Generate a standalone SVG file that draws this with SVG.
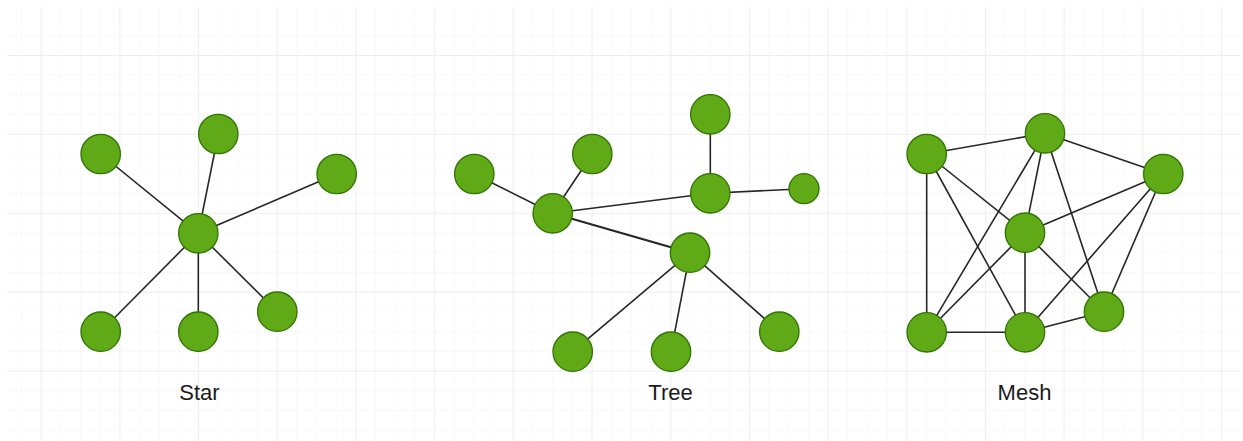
<svg xmlns="http://www.w3.org/2000/svg" width="1243" height="441" viewBox="0 0 1243 441">
<defs>
<pattern id="minor" x="40.7" y="55" width="19.67" height="19.72" patternUnits="userSpaceOnUse">
<path d="M0 0V19.72M0 0H19.67" fill="none" stroke="#f4f4f4" stroke-width="1"/>
</pattern>
<pattern id="major" x="40.7" y="55" width="78.69" height="78.9" patternUnits="userSpaceOnUse">
<path d="M0 0V78.9M0 0H78.69" fill="none" stroke="#e6e6e6" stroke-width="1"/>
</pattern>
<style>
.n{fill:#60a917;stroke:#2d7600;stroke-width:1.3}
.e{stroke:#262626;stroke-width:1.6;fill:none}
.t{font-family:"Liberation Sans",Arial,sans-serif;font-size:22px;fill:#1a1a1a;text-anchor:middle}
</style>
</defs>
<rect width="1243" height="441" fill="#fff"/>
<rect x="7" y="7" width="1233" height="434" fill="url(#minor)"/>
<rect x="7" y="7" width="1233" height="434" fill="url(#major)"/>
<g id="connectors" class="e">
<!-- star -->
<line x1="198.3" y1="233.3" x2="100.7" y2="154"/>
<line x1="198.3" y1="233.3" x2="218.3" y2="134"/>
<line x1="198.3" y1="233.3" x2="336.7" y2="174"/>
<line x1="198.3" y1="233.3" x2="100.7" y2="331.7"/>
<line x1="198.3" y1="233.3" x2="198.3" y2="331.7"/>
<line x1="198.3" y1="233.3" x2="277.3" y2="311.7"/>
<!-- tree -->
<line x1="552.7" y1="213.3" x2="474.3" y2="174"/>
<line x1="552.7" y1="213.3" x2="592.3" y2="154"/>
<line x1="552.7" y1="213.3" x2="710.3" y2="193.3"/>
<line x1="710.3" y1="193.3" x2="710.3" y2="114.3"/>
<line x1="710.3" y1="193.3" x2="804" y2="188.7"/>
<line x1="552.7" y1="213.3" x2="690" y2="252.7" stroke-width="2.2"/>
<line x1="690" y1="252.7" x2="572.7" y2="351.7"/>
<line x1="690" y1="252.7" x2="671" y2="351.7"/>
<line x1="690" y1="252.7" x2="779.3" y2="331.7"/>
<!-- mesh -->
<line x1="926.7" y1="154" x2="1045" y2="133.3"/>
<line x1="926.7" y1="154" x2="926.7" y2="332.3"/>
<line x1="926.7" y1="154" x2="1025" y2="232.7"/>
<line x1="926.7" y1="154" x2="1025" y2="332.3"/>
<line x1="1045" y1="133.3" x2="1163.3" y2="174"/>
<line x1="1045" y1="133.3" x2="1025" y2="232.7"/>
<line x1="1045" y1="133.3" x2="926.7" y2="332.3"/>
<line x1="1045" y1="133.3" x2="1104" y2="311.7"/>
<line x1="1025" y1="232.7" x2="1163.3" y2="174"/>
<line x1="1025" y1="232.7" x2="926.7" y2="332.3"/>
<line x1="1025" y1="232.7" x2="1025" y2="332.3"/>
<line x1="1025" y1="232.7" x2="1104" y2="311.7"/>
<line x1="1163.3" y1="174" x2="1025" y2="332.3"/>
<line x1="1163.3" y1="174" x2="1104" y2="311.7"/>
<line x1="926.7" y1="332.3" x2="1025" y2="332.3"/>
<line x1="1025" y1="332.3" x2="1104" y2="311.7"/>
</g>
<g id="star">
<g id="star-hub"><circle class="n" cx="198.3" cy="233.3" r="19.7"/></g>
<g id="star-1"><circle class="n" cx="100.7" cy="154" r="19.7"/></g>
<g id="star-2"><circle class="n" cx="218.3" cy="134" r="19.7"/></g>
<g id="star-3"><circle class="n" cx="336.7" cy="174" r="19.7"/></g>
<g id="star-4"><circle class="n" cx="100.7" cy="331.7" r="19.7"/></g>
<g id="star-5"><circle class="n" cx="198.3" cy="331.7" r="19.7"/></g>
<g id="star-6"><circle class="n" cx="277.3" cy="311.7" r="19.7"/></g>
<text class="t" x="199.5" y="399.5">Star</text>
</g>
<g id="tree">
<g id="tree-1"><circle class="n" cx="474.3" cy="174" r="19.7"/></g>
<g id="tree-2"><circle class="n" cx="592.3" cy="154" r="19.7"/></g>
<g id="tree-hub"><circle class="n" cx="552.7" cy="213.3" r="19.7"/></g>
<g id="tree-hub2"><circle class="n" cx="710.3" cy="193.3" r="19.7"/></g>
<g id="tree-3"><circle class="n" cx="710.3" cy="114.3" r="19.7"/></g>
<g id="tree-4"><circle class="n" cx="804" cy="188.7" r="15"/></g>
<g id="tree-hub3"><circle class="n" cx="690" cy="252.7" r="19.7"/></g>
<g id="tree-5"><circle class="n" cx="572.7" cy="351.7" r="19.7"/></g>
<g id="tree-6"><circle class="n" cx="671" cy="351.7" r="19.7"/></g>
<g id="tree-7"><circle class="n" cx="779.3" cy="331.7" r="19.7"/></g>
<text class="t" x="670.5" y="399.5">Tree</text>
</g>
<g id="mesh">
<g id="mesh-tl"><circle class="n" cx="926.7" cy="154" r="19.7"/></g>
<g id="mesh-top"><circle class="n" cx="1045" cy="133.3" r="19.7"/></g>
<g id="mesh-right"><circle class="n" cx="1163.3" cy="174" r="19.7"/></g>
<g id="mesh-center"><circle class="n" cx="1025" cy="232.7" r="19.7"/></g>
<g id="mesh-bl"><circle class="n" cx="926.7" cy="332.3" r="19.7"/></g>
<g id="mesh-bm"><circle class="n" cx="1025" cy="332.3" r="19.7"/></g>
<g id="mesh-br"><circle class="n" cx="1104" cy="311.7" r="19.7"/></g>
<text class="t" x="1024.5" y="399.5">Mesh</text>
</g>
</svg>
